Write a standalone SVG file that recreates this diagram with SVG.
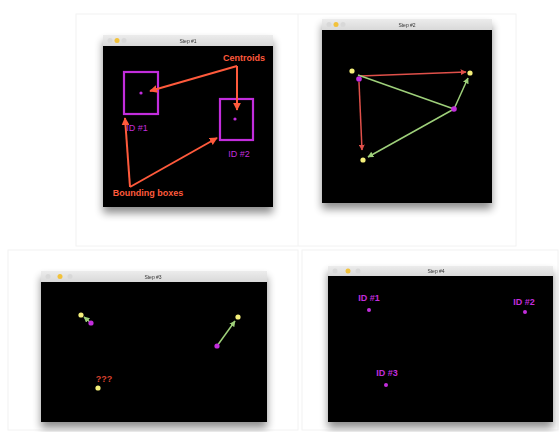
<svg xmlns="http://www.w3.org/2000/svg" width="559" height="432" viewBox="0 0 559 432">
<defs>
<filter id="sh" x="-20%" y="-20%" width="140%" height="150%">
<feGaussianBlur in="SourceAlpha" stdDeviation="4"/>
<feOffset dy="6"/>
<feComponentTransfer><feFuncA type="linear" slope="0.45"/></feComponentTransfer>
<feMerge><feMergeNode/><feMergeNode in="SourceGraphic"/></feMerge>
</filter>
<linearGradient id="tb" x1="0" y1="0" x2="0" y2="1">
<stop offset="0" stop-color="#ececec"/><stop offset="1" stop-color="#d9d9d9"/>
</linearGradient>
<marker id="ao" viewBox="0 0 10 10" refX="9" refY="5" markerWidth="4" markerHeight="4" orient="auto-start-reverse">
<path d="M0,0 L10,5 L0,10 z" fill="#ff5a3c"/>
</marker>
<marker id="ar" viewBox="0 0 10 10" refX="9" refY="5" markerWidth="4" markerHeight="4" orient="auto">
<path d="M0,0 L10,5 L0,10 z" fill="#e0504a"/>
</marker>
<marker id="ag" viewBox="0 0 10 10" refX="9" refY="5" markerWidth="4" markerHeight="4" orient="auto">
<path d="M0,0 L10,5 L0,10 z" fill="#9ed07a"/>
</marker>
</defs>
<style>
.frame{fill:none;stroke:#f2f2f2;stroke-width:1}
.tbar{fill:url(#tb)}
.screen{fill:#000}
.ttl{font-family:"Liberation Sans",Arial,sans-serif;font-size:5px;fill:#333;text-anchor:middle}
.light{fill:#f2c23a}
.lightg{fill:#d8d8d8}
.box{fill:none;stroke:#c22ddc;stroke-width:2.2}
.mag{fill:#c22ddc}
.yel{fill:#f4ef7a}
.lblm{font-family:"Liberation Sans",Arial,sans-serif;font-size:9px;fill:#c22ddc;text-anchor:middle}
.lblm4{font-family:"Liberation Sans",Arial,sans-serif;font-size:9px;font-weight:bold;fill:#c22ddc;text-anchor:middle}
.lblo{font-family:"Liberation Sans",Arial,sans-serif;font-size:9px;font-weight:bold;fill:#ff5a3c;text-anchor:middle}
.lblr{font-family:"Liberation Sans",Arial,sans-serif;font-size:9px;font-weight:bold;fill:#d8402e;text-anchor:middle}
.ao{stroke:#ff5a3c;stroke-width:2;fill:none;marker-end:url(#ao)}
.ar{stroke:#e0504a;stroke-width:1.5;fill:none;marker-end:url(#ar)}
.ag{stroke:#9ed07a;stroke-width:1.5;fill:none;marker-end:url(#ag)}
.gl{stroke:#9ed07a;stroke-width:1.5;fill:none}
</style>
<rect width="559" height="432" fill="#fff"/>
<rect class="frame" x="76" y="14" width="440" height="232"/>
<line class="frame" x1="298" y1="14" x2="298" y2="246"/>
<rect class="frame" x="8" y="250" width="290" height="180"/>
<rect class="frame" x="302" y="250" width="256" height="180"/>

<g id="window1" filter="url(#sh)">
<rect class="tbar" x="103" y="35" width="170" height="11"/>
<circle class="lightg" cx="110" cy="40.5" r="2.5"/>
<circle class="light" cx="117" cy="40.5" r="2.5"/>
<circle class="lightg" cx="124" cy="40.5" r="2.5"/>
<text class="ttl" x="188" y="42.5">Step #1</text>
<rect class="screen" x="103" y="46" width="170" height="161"/>
</g>
<g id="window2" filter="url(#sh)">
<rect class="tbar" x="322" y="19" width="170" height="11"/>
<circle class="lightg" cx="329" cy="24.5" r="2.5"/>
<circle class="light" cx="336" cy="24.5" r="2.5"/>
<circle class="lightg" cx="343" cy="24.5" r="2.5"/>
<text class="ttl" x="407" y="26.5">Step #2</text>
<rect class="screen" x="322" y="30" width="170" height="173"/>
</g>
<g id="window3" filter="url(#sh)">
<rect class="tbar" x="41" y="271" width="226" height="11"/>
<circle class="lightg" cx="48" cy="276.5" r="2.5"/>
<circle class="light" cx="60" cy="276.5" r="2.5"/>
<circle class="lightg" cx="70" cy="276.5" r="2.5"/>
<text class="ttl" x="153" y="278.5">Step #3</text>
<rect class="screen" x="41" y="282" width="226" height="140"/>
</g>
<g id="window4" filter="url(#sh)">
<rect class="tbar" x="328" y="266" width="225" height="10"/>
<circle class="lightg" cx="335" cy="271" r="2.5"/>
<circle class="light" cx="348" cy="271" r="2.5"/>
<circle class="lightg" cx="358" cy="271" r="2.5"/>
<text class="ttl" x="436" y="273">Step #4</text>
<rect class="screen" x="328" y="276" width="225" height="146"/>
</g>

<g id="id1-box">
<rect class="box" x="124" y="72" width="34" height="42"/>
<circle class="mag" cx="141" cy="93" r="1.6"/>
<text class="lblm" x="137" y="131">ID #1</text>
</g>
<g id="id2-box">
<rect class="box" x="220" y="99" width="33" height="41"/>
<circle class="mag" cx="235" cy="119" r="1.6"/>
<text class="lblm" x="239" y="157">ID #2</text>
</g>
<g id="centroids-label"><text class="lblo" x="244" y="61">Centroids</text></g>
<g id="bounding-label"><text class="lblo" x="148" y="196">Bounding boxes</text></g>

<g id="connectors">
<path class="ao" d="M237,66 L150,91"/>
<path class="ao" d="M237,66 L237,110"/>
<path class="ao" d="M130,187 L125,118"/>
<path class="ao" d="M130,187 L217,138"/>
<path class="ar" d="M360,76 L466,72"/>
<path class="ar" d="M359,82 L362,150"/>
<path class="gl" d="M454,109 L358,75"/>
<path class="ag" d="M454,109 L468,78"/>
<path class="ag" d="M454,109 L368,157"/>
<path class="ag" d="M91,323 L84,317"/>
<path class="ag" d="M217,346 L235,321"/>
</g>

<g id="s2-yA"><circle class="yel" cx="352" cy="71" r="2.6"/></g>
<g id="s2-mA"><circle class="mag" cx="359" cy="79" r="2.8"/></g>
<g id="s2-yB"><circle class="yel" cx="470" cy="73" r="2.6"/></g>
<g id="s2-mB"><circle class="mag" cx="454" cy="109" r="2.8"/></g>
<g id="s2-yC"><circle class="yel" cx="363" cy="160" r="2.6"/></g>

<g id="s3-y1"><circle class="yel" cx="81" cy="315" r="2.6"/></g>
<g id="s3-m1"><circle class="mag" cx="91" cy="323" r="2.6"/></g>
<g id="s3-y2"><circle class="yel" cx="238" cy="317" r="2.6"/></g>
<g id="s3-m2"><circle class="mag" cx="217" cy="346" r="2.6"/></g>
<g id="s3-y3"><circle class="yel" cx="98" cy="388" r="2.6"/>
<text class="lblr" x="104" y="382">???</text></g>

<g id="s4-id1"><text class="lblm4" x="369" y="301">ID #1</text><circle class="mag" cx="369" cy="310" r="2"/></g>
<g id="s4-id2"><text class="lblm4" x="524" y="305">ID #2</text><circle class="mag" cx="525" cy="312" r="2"/></g>
<g id="s4-id3"><text class="lblm4" x="387" y="376">ID #3</text><circle class="mag" cx="386" cy="385" r="2"/></g>
</svg>
